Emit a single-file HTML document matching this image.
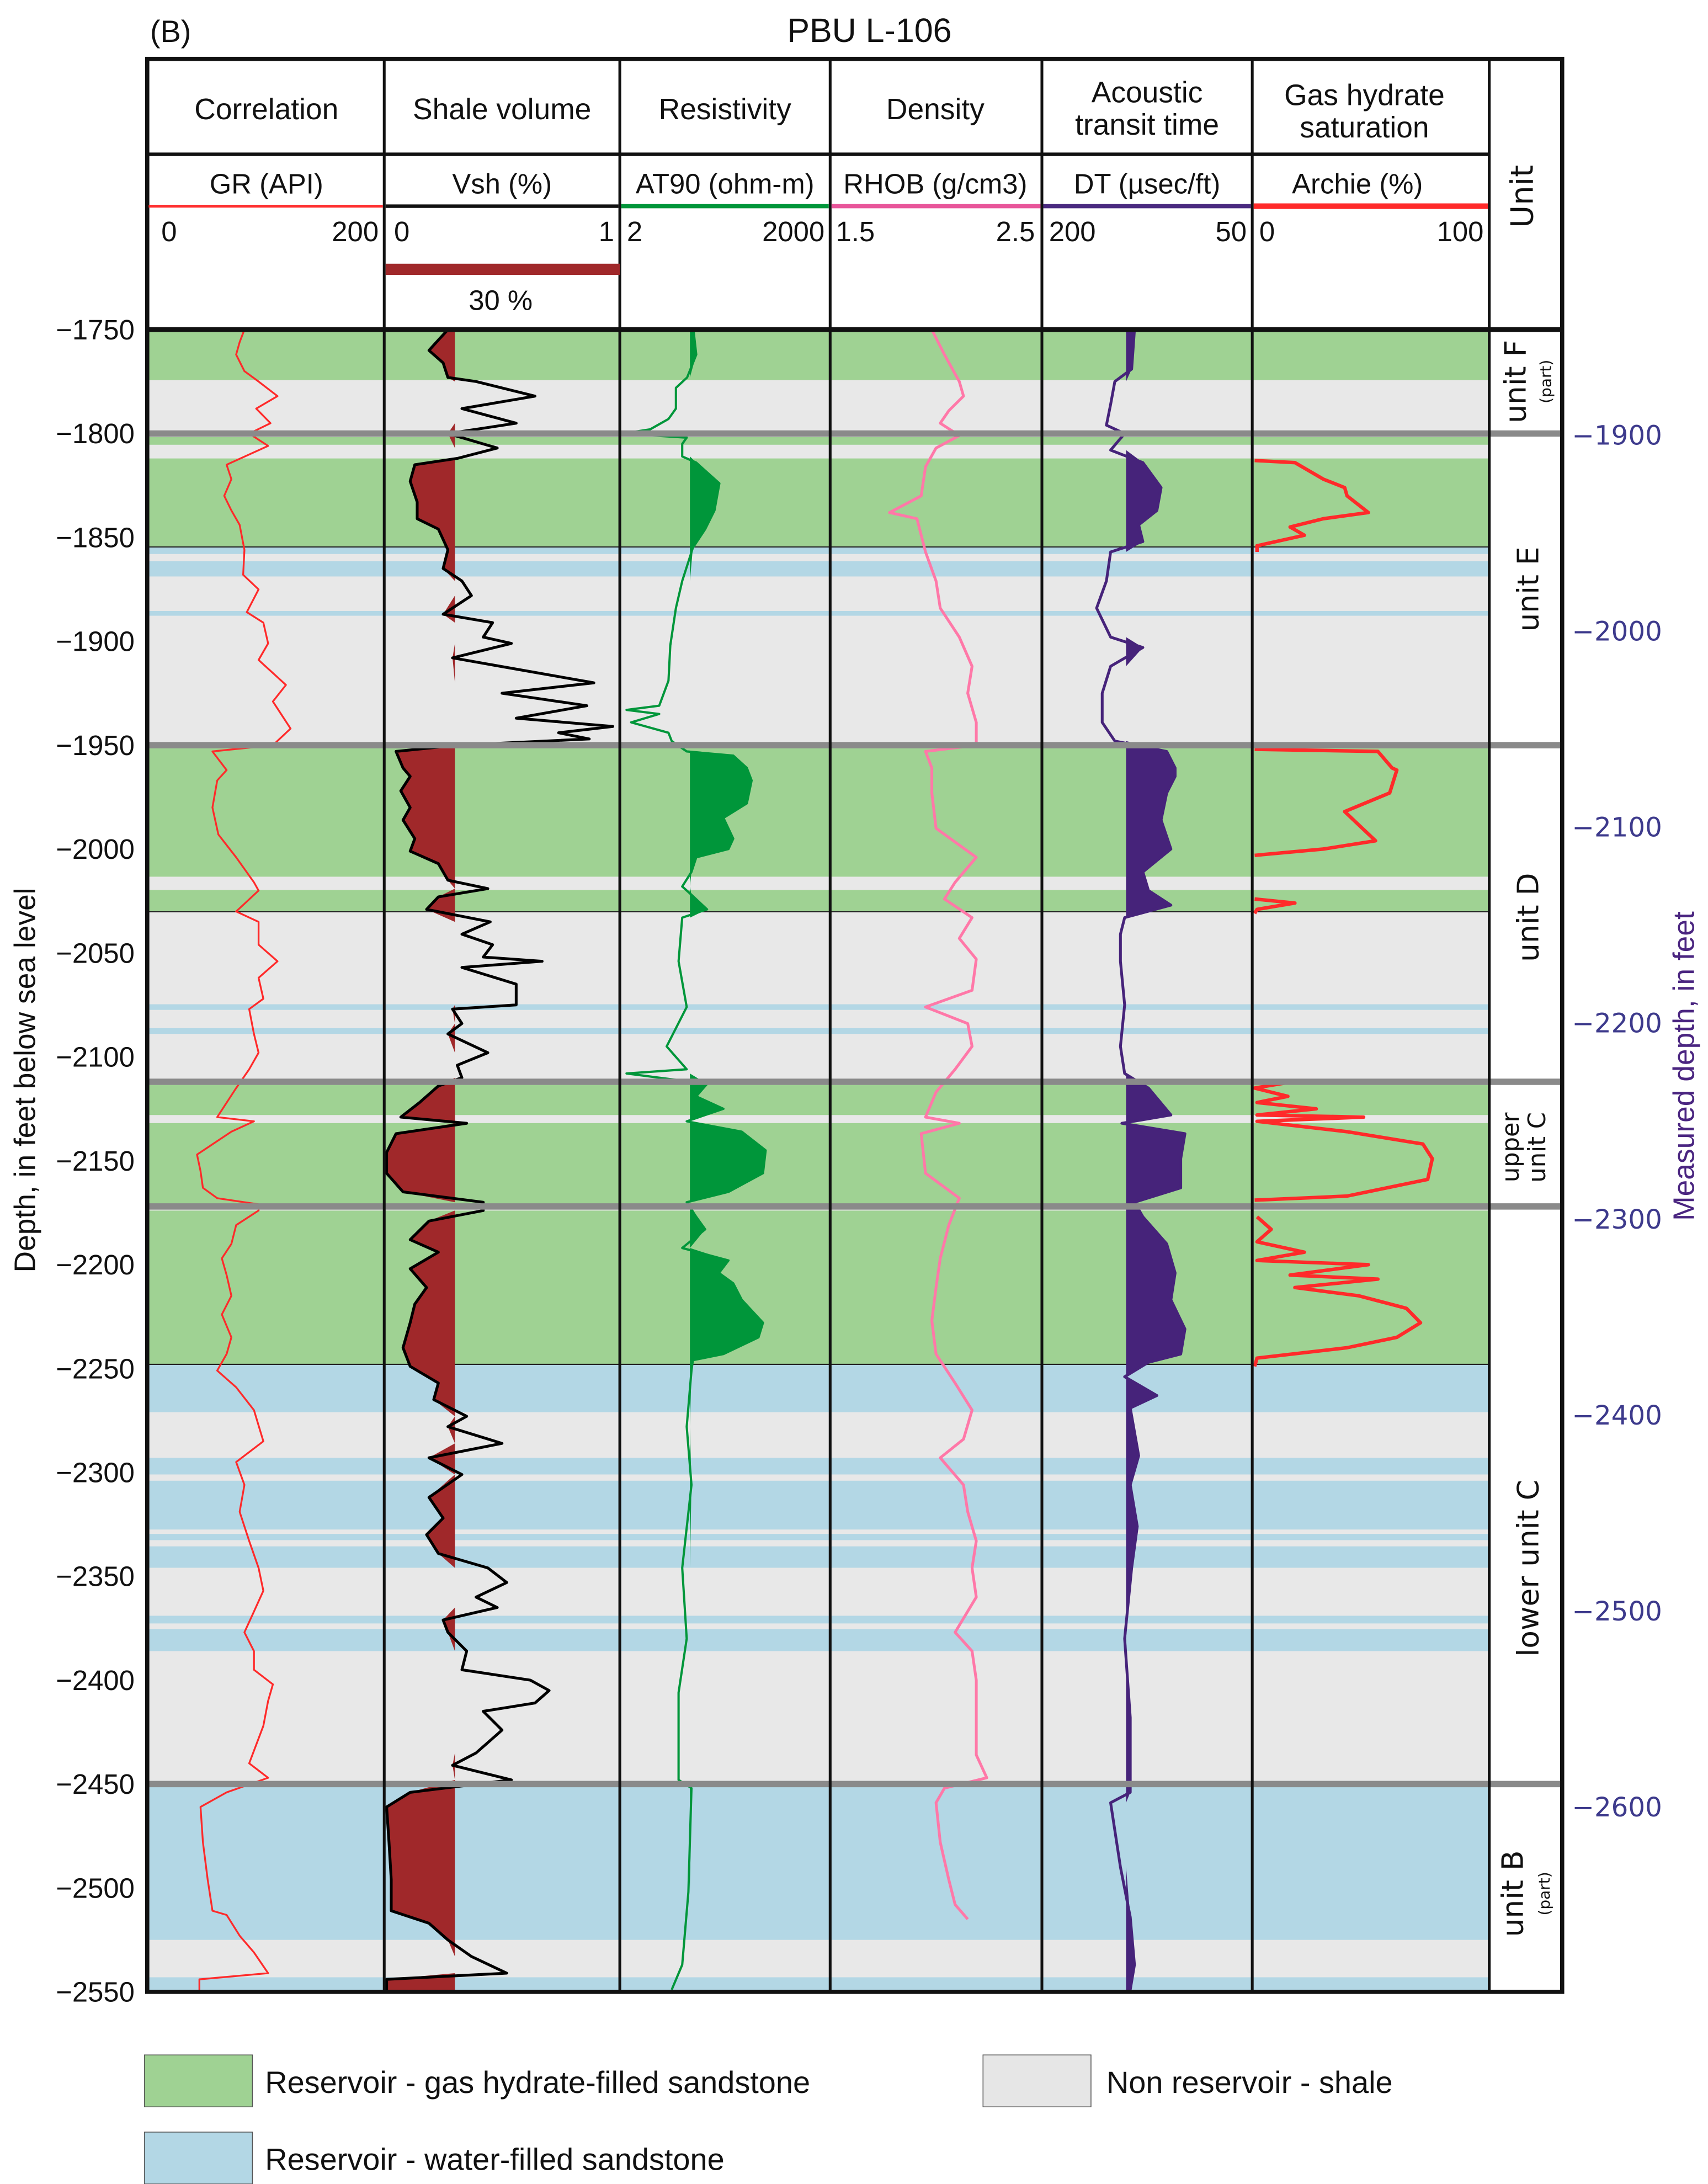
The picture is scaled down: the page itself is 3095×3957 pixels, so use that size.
<!DOCTYPE html>
<html><head><meta charset="utf-8"><title>PBU L-106 well log</title>
<style>html,body{margin:0;padding:0;background:#fff}svg{display:block}text{font-family:"Liberation Sans",Arial,sans-serif}</style>
</head><body>
<svg id="chart" width="3095" height="3957" viewBox="0 0 1218 1557" preserveAspectRatio="none" xmlns="http://www.w3.org/2000/svg">
<rect x="0" y="0" width="1218" height="1557" fill="#fff"/>
<g id="bands"></g>
<g id="fills"></g>
<g id="curves"></g>
<g id="frame"></g>
<g id="labels"></g>
</svg>
<script>
// ---- data ----
const depthTicks = [1750,1800,1850,1900,1950,2000,2050,2100,2150,2200,2250,2300,2350,2400,2450,2500,2550];
const mdTicks = [1900,2000,2100,2200,2300,2400,2500,2600];
const bandTops =    [1750,1774.3,1801.7,1805.4,1812,1854.6,1858,1861.4,1868.8,1885.4,1887.7,1951.5,2013.3,2019.7,2030.2,2074.7,2077.4,2086.2,2088.9,2113.5,2128,2131.9,2172,2174,2248,2271,2293,2301,2304,2327.5,2329.6,2332.6,2335.6,2345.9,2369,2372.7,2375.4,2386,2451,2525,2543];
const bandBottoms = [1774.3,1801.7,1805.4,1812,1854.6,1858,1861.4,1868.8,1885.4,1887.7,1951.5,2013.3,2019.7,2030.2,2074.7,2077.4,2086.2,2088.9,2113.5,2128,2131.9,2172,2174,2248,2271,2293,2301,2304,2327.5,2329.6,2332.6,2335.6,2345.9,2369,2372.7,2375.4,2386,2451,2525,2543,2550];
const bandTypes = ["g","s","g","s","g","b","s","b","s","b","s","g","s","g","s","b","s","b","s","g","s","g","s","g","b","s","b","s","b","s","b","s","b","s","b","s","b","s","b","s","b"];
const unitBoundaries = [1800,1950,2112,2172,2450];
const reservoirBaseLines = [1854.6,2030.2,2248];

const grDepth = [1750,1756,1762,1770,1775,1782,1788,1795,1800,1806,1815,1822,1830,1837,1844,1856,1868,1875,1886,1891,1901,1909,1921,1929,1942,1950,1953,1962,1967,1980,1993,2004,2016,2020,2030,2035,2046,2054,2062,2072,2077,2089,2098,2106,2115,2129,2131,2136,2147,2155,2163,2168,2171,2174,2181,2190,2197,2205,2215,2224,2235,2243,2251,2259,2270,2285,2295,2306,2319,2333,2346,2357,2367,2377,2386,2395,2402,2410,2422,2440,2447,2454,2461,2478,2496,2511,2513,2523,2531,2541,2544,2549];
const grValue = [82,78,75,82,94,110,92,104,86,102,67,71,65,71,78,82,81,94,84,98,102,94,117,106,121,106,55,67,59,55,60,75,90,94,75,94,94,110,94,98,86,90,94,86,75,59,90,71,42,45,47,59,94,94,75,71,63,67,71,63,71,67,59,75,90,98,75,82,78,86,94,98,90,82,90,90,106,102,98,86,102,67,45,47,51,55,67,78,90,102,44,44];

const vshDepth = [1750,1755,1760,1766,1773,1775,1782,1788,1795,1800,1807,1812,1815,1823,1833,1841,1846,1856,1865,1871,1878,1887,1891,1898,1901,1908,1920,1925,1931,1937,1941,1944,1947,1950,1953,1961,1965,1972,1980,1986,1995,2001,2007,2015,2019,2023,2029,2035,2041,2046,2052,2054,2057,2065,2075,2077,2084,2089,2098,2104,2110,2114,2122,2129,2132,2137,2146,2156,2165,2170,2174,2179,2188,2194,2202,2211,2219,2228,2240,2249,2257,2265,2273,2278,2286,2293,2301,2312,2322,2330,2339,2346,2353,2360,2365,2371,2377,2386,2395,2400,2405,2411,2415,2424,2435,2441,2448,2454,2461,2478,2496,2511,2517,2525,2533,2541,2544,2549];
const vshValue = [0.27,0.23,0.19,0.25,0.27,0.39,0.64,0.33,0.56,0.27,0.48,0.31,0.13,0.11,0.14,0.14,0.23,0.27,0.25,0.33,0.37,0.25,0.46,0.42,0.54,0.29,0.89,0.50,0.86,0.56,0.97,0.74,0.87,0.31,0.05,0.08,0.11,0.07,0.11,0.08,0.13,0.11,0.23,0.27,0.44,0.23,0.18,0.45,0.33,0.46,0.42,0.67,0.33,0.56,0.56,0.29,0.33,0.27,0.44,0.31,0.33,0.23,0.15,0.07,0.35,0.05,0.01,0.01,0.08,0.42,0.42,0.19,0.11,0.23,0.11,0.18,0.13,0.11,0.08,0.11,0.23,0.21,0.35,0.27,0.50,0.19,0.33,0.19,0.25,0.18,0.23,0.44,0.52,0.39,0.48,0.25,0.27,0.35,0.33,0.62,0.70,0.64,0.42,0.50,0.39,0.29,0.54,0.11,0.01,0.02,0.03,0.03,0.19,0.27,0.37,0.52,0.01,0.01];

const resDepth = [1750,1762,1773,1778,1788,1793,1798,1800,1802,1805,1811,1814,1824,1837,1846,1855,1871,1884,1902,1919,1931,1933,1935,1939,1944,1948,1953,1955,1961,1967,1978,1985,1995,2000,2004,2011,2018,2022,2029,2033,2054,2076,2095,2106,2108,2113,2119,2125,2131,2136,2145,2156,2165,2170,2177,2183,2192,2198,2204,2209,2217,2228,2235,2243,2246,2251,2278,2306,2346,2380,2406,2448,2452,2502,2537,2549];
const resValue = [22.4,24.6,18.2,12.6,12.6,9.9,5.4,2.2,18,15.5,15.5,24.6,52.6,44.8,33,22,15.5,12.6,10.5,9.9,7.3,2.5,7.3,2.9,9.9,11,18,83,130,152,130,60,83,71,24.6,21,15.5,21,35,15.5,13.8,18,9.3,18,2.5,35,24.6,60,18,110,240,220,71,18,24.6,33,15.5,71,52,83,110,220,190,60,22,21,18,21,15.5,18,13.8,13.8,21,19,15.5,11];

const rhobDepth = [1750,1762,1775,1782,1789,1795,1801,1807,1816,1830,1838,1841,1857,1871,1884,1898,1912,1925,1939,1950,1953,1961,1973,1990,2004,2016,2024,2033,2043,2053,2068,2076,2084,2095,2106,2117,2129,2132,2137,2156,2168,2181,2197,2211,2227,2243,2257,2270,2284,2293,2306,2319,2333,2346,2360,2377,2386,2400,2418,2436,2447,2452,2459,2478,2496,2508,2515];
const rhobValue = [1.98,2.04,2.11,2.13,2.06,2.02,2.11,2.00,1.95,1.93,1.78,1.91,1.95,2.00,2.02,2.11,2.17,2.15,2.19,2.19,1.95,1.98,1.98,2.00,2.19,2.09,2.04,2.17,2.11,2.19,2.17,1.95,2.15,2.17,2.09,2.00,1.95,2.11,1.93,1.95,2.11,2.06,2.02,2.00,1.98,2.00,2.09,2.17,2.13,2.02,2.13,2.15,2.19,2.17,2.19,2.09,2.17,2.19,2.19,2.19,2.24,2.04,2.00,2.02,2.06,2.09,2.15];

const dtDepth = [1750,1769,1775,1786,1796,1800,1808,1814,1826,1837,1844,1852,1857,1871,1884,1898,1903,1912,1925,1939,1948,1953,1961,1965,1973,1986,2000,2011,2020,2027,2033,2041,2054,2075,2095,2108,2115,2128,2132,2137,2149,2163,2170,2177,2190,2204,2217,2231,2243,2247,2254,2263,2269,2292,2306,2326,2346,2380,2418,2454,2459,2490,2514,2537,2549];
const dtValue = [134,136,148,151,154,141,151,128,115,118,131,128,151,154,161,151,128,151,157,157,148,111,105,105,111,115,108,128,124,108,141,144,144,141,144,141,124,108,143,98,101,101,134,128,111,105,108,98,101,124,141,118,137,131,137,132,136,141,137,137,151,144,137,134,137];

const swDepth = [1813,1814,1822,1826,1830,1838,1841,1845,1849,1854,1857,null,1952,1953,1961,1962,1973,1982,1996,2000,2003,null,2024,2026,2029,2031,null,2112,2115,2119,2122,2125,2128,2129,2131,2136,2142,2149,2159,2167,2169,null,2177,2183,2189,2194,2198,2200,2205,2207,2211,2215,2221,2228,2235,2240,2245,2249];
const swValue = [1,18,30,39,40,49,30,16,22,2,2,null,1,53,59,61,58,39,52,30,1,null,1,18,2,1,null,17,1,15,2,27,2,47,2,40,72,76,74,40,1,null,2,8,2,22,2,49,16,53,18,45,65,71,61,40,2,1];

const vshCutoff = 0.3;
const resCutoff = 20;
const dtCutoff = 140;

// ---- scales ----
const TOP = 235, BOT = 1420;
const yD = d => TOP + (d - 1750) * (BOT - TOP) / 800;
const yMD = m => 310 + (m - 1900) * 1.397;
const xGR = v => 105 + v / 200 * 169;
const xVsh = v => 274 + v * 168;
const xRes = v => 442 + Math.log10(v / 2) / 3 * 150;
const xRho = v => 592 + (v - 1.5) * 151;
const xDT = v => 743 + (200 - v);
const xSw = v => 893 + v / 100 * 169;

const NS = "http://www.w3.org/2000/svg";
function mk(tag, parent, attrs) {
  const e = document.createElementNS(NS, tag);
  for (const k in attrs) e.setAttribute(k, attrs[k]);
  parent.appendChild(e);
  return e;
}
function txt(parent, x, y, s, size, opts) {
  const o = opts || {};
  const t = mk("text", parent, {x: x, y: y, "font-size": size, fill: o.fill || "#111", "text-anchor": o.anchor || "middle"});
  if (o.transform) t.setAttribute("transform", o.transform);
  if (o.family) t.setAttribute("style", "font-family:" + o.family);
  t.textContent = s;
  return t;
}

const gB = document.getElementById("bands");
const gF = document.getElementById("fills");
const gC = document.getElementById("curves");
const gFr = document.getElementById("frame");
const gL = document.getElementById("labels");
const bandColor = {g: "#9fd293", s: "#e8e8e8", b: "#b3d7e5"};

// bands
for (let i = 0; i < bandTops.length; i++) {
  const r = mk("rect", gB, {x: 105, y: yD(bandTops[i]), width: 957, height: yD(bandBottoms[i]) - yD(bandTops[i]) + 0.3, fill: bandColor[bandTypes[i]]});
  
  
}
reservoirBaseLines.forEach(d => {
  const l = mk("line", gB, {x1: 105, x2: 1062, y1: yD(d), y2: yD(d), stroke: "#222", "stroke-width": 0.8});
  
  
});

function pts(depths, vals, fx) {
  const segs = []; let cur = [];
  for (let i = 0; i < depths.length; i++) {
    if (depths[i] === null || vals[i] === null) { if (cur.length) segs.push(cur); cur = []; continue; }
    cur.push([fx(vals[i]), yD(depths[i])]);
  }
  if (cur.length) segs.push(cur);
  return segs;
}
function curve(depths, vals, fx, color, w, name) {
  pts(depths, vals, fx).forEach(seg => {
    const p = mk("polyline", gC, {points: seg.map(q => q[0].toFixed(1) + "," + q[1].toFixed(1)).join(" "), fill: "none", stroke: color, "stroke-width": w, "stroke-linejoin": "round"});
    
    
  });
}
function fill(depths, vals, fx, cutX, side, color, name) {
  const seg = pts(depths, vals, fx)[0];
  const arr = seg.map(q => [side < 0 ? Math.min(q[0], cutX) : Math.max(q[0], cutX), q[1]]);
  const poly = [[cutX, arr[0][1]]].concat(arr, [[cutX, arr[arr.length - 1][1]]]);
  const p = mk("polygon", gF, {points: poly.map(q => q[0].toFixed(1) + "," + q[1].toFixed(1)).join(" "), fill: color});
  
  
}
fill(vshDepth, vshValue, xVsh, xVsh(vshCutoff), -1, "#a0282a", "vsh-fill");
fill(resDepth, resValue, xRes, xRes(resCutoff), 1, "#00963a", "resistivity-fill");
fill(dtDepth, dtValue, xDT, xDT(dtCutoff), 1, "#46237a", "dt-fill");

// unit boundary thick lines
unitBoundaries.forEach(d => {
  const l = mk("line", gFr, {x1: 105, x2: 1114, y1: yD(d), y2: yD(d), stroke: "#8a8a8a", "stroke-width": 4.5});
  
  
});

curve(grDepth, grValue, xGR, "#ff2a2a", 1.3, "gr-curve");
curve(vshDepth, vshValue, xVsh, "#000", 2, "vsh-curve");
curve(resDepth, resValue, xRes, "#00963a", 1.6, "at90-curve");
curve(rhobDepth, rhobValue, xRho, "#ff78a8", 2, "rhob-curve");
curve(dtDepth, dtValue, xDT, "#46237a", 2, "dt-curve");
curve(swDepth, swValue, xSw, "#ff2a2a", 2.5, "archie-curve");

// frame
const cols = [274, 442, 592, 743, 893, 1062];
cols.forEach(x => {
  const l = mk("line", gFr, {x1: x, x2: x, y1: 42, y2: BOT, stroke: "#111", "stroke-width": 2});
  
  
});
mk("line", gFr, {x1: 105, x2: 1062, y1: 110, y2: 110, stroke: "#111", "stroke-width": 2.5});
mk("line", gFr, {x1: 105, x2: 1114, y1: TOP, y2: TOP, stroke: "#111", "stroke-width": 3.5});
mk("rect", gFr, {x: 105, y: 42, width: 1009, height: BOT - 42, fill: "none", stroke: "#111", "stroke-width": 3});
const colorLines = [[105,274,"#ff3030",2],[274,442,"#111",2.5],[442,592,"#00963a",3],[592,743,"#e8559a",3],[743,893,"#4a2a80",3],[893,1062,"#ff2a2a",4]];
colorLines.forEach(c => {
  const l = mk("line", gFr, {x1: c[0] + 1, x2: c[1] - 1, y1: 147, y2: 147, stroke: c[2], "stroke-width": c[3]});
  
  
});
mk("rect", gFr, {x: 275, y: 188, width: 167, height: 8, fill: "#a0282a"});

// labels
txt(gL, 107, 30, "(B)", 22, {anchor: "start"});
txt(gL, 620, 30, "PBU L-106", 24);
const heads = [["Correlation",190],["Shale volume",358],["Resistivity",517],["Density",667]];
heads.forEach(h => txt(gL, h[1], 85, h[0], 21));
txt(gL, 818, 73, "Acoustic", 21); txt(gL, 818, 96, "transit time", 21);
txt(gL, 973, 75, "Gas hydrate", 21); txt(gL, 973, 98, "saturation", 21);
const mn = [["GR (API)",190],["Vsh (%)",358],["AT90 (ohm-m)",517],["RHOB (g/cm3)",667],["DT (µsec/ft)",818],["Archie (%)",968]];
mn.forEach(h => txt(gL, h[1], 138, h[0], 20));
const scl = [[115,"0","start"],[270,"200","end"],[281,"0","start"],[438,"1","end"],[447,"2","start"],[588,"2000","end"],[596,"1.5","start"],[738,"2.5","end"],[748,"200","start"],[889,"50","end"],[898,"0","start"],[1058,"100","end"]];
scl.forEach(s => txt(gL, s[0], 172, s[1], 20, {anchor: s[2]}));
txt(gL, 357, 221, "30 %", 20);
txt(gL, 1093, 140, "Unit", 22, {transform: "rotate(-90 1093 140)", family: "'DejaVu Sans',sans-serif"});

depthTicks.forEach(d => {
  const t = txt(gL, 96, yD(d) + 7, "\u2212" + d, 20, {anchor: "end"});
  
  
});
mdTicks.forEach(m => {
  const t = txt(gL, 1121, yMD(m) + 7, "\u2212" + m, 19, {anchor: "start", fill: "#3d3a8c", family: "'DejaVu Sans',sans-serif"});
  
  
});
txt(gL, 25, 770, "Depth, in feet below sea level", 21, {transform: "rotate(-90 25 770)"});
txt(gL, 1208, 760, "Measured depth, in feet", 21, {transform: "rotate(-90 1208 760)", fill: "#4a2580"});

const uf = "'DejaVu Sans',sans-serif";
txt(gL, 1088, 272, "unit F", 21, {transform: "rotate(-90 1088 272)", family: uf});
txt(gL, 1106, 272, "(part)", 11, {transform: "rotate(-90 1106 272)", family: uf});
txt(gL, 1097, 420, "unit E", 21, {transform: "rotate(-90 1097 420)", family: uf});
txt(gL, 1097, 654, "unit D", 21, {transform: "rotate(-90 1097 654)", family: uf});
txt(gL, 1083, 818, "upper", 17, {transform: "rotate(-90 1083 818)", family: uf});
txt(gL, 1102, 818, "unit C", 17, {transform: "rotate(-90 1102 818)", family: uf});
txt(gL, 1097, 1118, "lower unit C", 21, {transform: "rotate(-90 1097 1118)", family: uf});
txt(gL, 1086, 1350, "unit B", 21, {transform: "rotate(-90 1086 1350)", family: uf});
txt(gL, 1105, 1350, "(part)", 11, {transform: "rotate(-90 1105 1350)", family: uf});

// legend
const lg = [[103,1465,"#9fd293","Reservoir - gas hydrate-filled sandstone",189],[103,1520,"#b3d7e5","Reservoir - water-filled sandstone",189],[701,1465,"#e6e6e6","Non reservoir - shale",789]];
lg.forEach(l => {
  const r = mk("rect", gL, {x: l[0], y: l[1], width: 77, height: 37, fill: l[2], stroke: "#555", "stroke-width": 0.6});
  
  
  const t = txt(gL, l[4], l[1] + 27, l[3], 22, {anchor: "start"});
  
  
});
</script>
</body></html>
